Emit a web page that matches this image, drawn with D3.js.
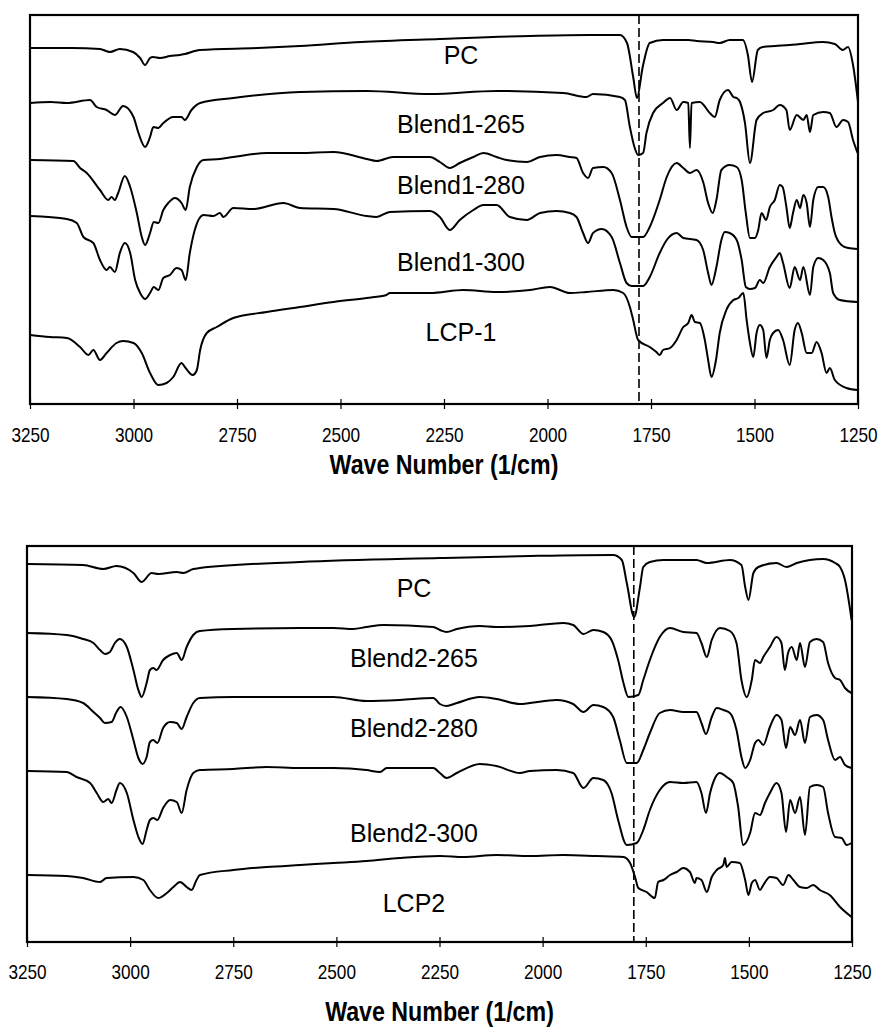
<!DOCTYPE html>
<html><head><meta charset="utf-8">
<script src="https://cdn.jsdelivr.net/npm/d3@7"></script>
<style>body{margin:0;background:#fff} svg{display:block}</style>
</head><body><svg id="c" width="878" height="1029"></svg>
<script>
// ---------- data (wavenumber 1/cm, relative transmittance in arbitrary units) ----------
const tickValues = [3250,3000,2750,2500,2250,2000,1750,1500,1250];
const axisTitle = "Wave Number (1/cm)";
const markerWavenumber = 1779;
const panel1Labels = ["PC","Blend1-265","Blend1-280","Blend1-300","LCP-1"];
const panel2Labels = ["PC","Blend2-265","Blend2-280","Blend2-300","LCP2"];

const p1_PC = [[3250,356],[3150,356],[3081,355],[3057,352],[3033,355],[3001,352],[2984,346],[2972,339],[2960,346],[2953,347],[2936,346],[2912,348],[2888,349],[2876,350],[2840,354],[2700,356],[2598,358],[2450,362],[2260,365],[2042,368],[1900,369],[1825,369],[1808,361],[1793,327],[1784,306],[1770,337],[1753,361],[1721,364],[1660,364],[1640,363],[1600,362],[1584,361],[1560,364],[1528,364],[1516,349],[1506,322],[1492,354],[1480,357],[1450,358],[1415,359],[1390,360],[1335,362],[1306,360],[1287,354],[1274,357],[1262,339],[1250,302]];

const p1_B265 = [[3250,301],[3200,302],[3161,301],[3105,304],[3089,297],[3065,294],[3045,289],[3025,298],[3000,287],[2988,271],[2972,257],[2960,267],[2952,277],[2940,276],[2928,281],[2904,287],[2884,287],[2876,284],[2860,294],[2839,301],[2759,306],[2598,312],[2437,313],[2284,310],[2123,313],[1962,311],[1906,307],[1890,310],[1825,307],[1813,304],[1801,277],[1790,257],[1781,249],[1769,251],[1761,271],[1745,291],[1721,301],[1704,306],[1688,294],[1672,302],[1660,301],[1656,256],[1652,301],[1632,302],[1608,291],[1596,287],[1584,304],[1564,314],[1551,307],[1543,306],[1535,302],[1523,281],[1511,241],[1495,284],[1479,291],[1455,294],[1439,299],[1423,294],[1415,274],[1398,289],[1382,284],[1374,289],[1366,272],[1358,289],[1334,292],[1318,291],[1302,277],[1286,284],[1274,282],[1262,264],[1251,251]];

const p1_B280 = [[3250,244],[3145,243],[3129,236],[3113,231],[3081,214],[3061,204],[3053,207],[3045,204],[3037,211],[3021,228],[3008,217],[2992,191],[2980,167],[2972,159],[2960,171],[2951,182],[2940,181],[2928,194],[2916,201],[2900,206],[2884,201],[2874,194],[2864,217],[2847,237],[2831,244],[2791,245],[2759,247],[2678,251],[2598,251],[2517,252],[2437,245],[2413,243],[2373,247],[2284,247],[2260,242],[2236,236],[2212,241],[2179,247],[2155,251],[2123,247],[2099,244],[2050,242],[2018,247],[1978,249],[1946,247],[1930,246],[1914,231],[1902,226],[1890,236],[1865,237],[1845,231],[1825,204],[1809,177],[1797,167],[1769,167],[1753,177],[1729,204],[1712,227],[1688,241],[1672,236],[1656,231],[1640,234],[1624,222],[1612,201],[1601,191],[1592,204],[1580,234],[1560,239],[1543,237],[1531,224],[1521,191],[1511,166],[1499,166],[1491,174],[1483,191],[1472,184],[1463,197],[1451,204],[1439,219],[1432,217],[1423,197],[1415,176],[1407,191],[1398,204],[1390,196],[1382,209],[1374,201],[1366,177],[1358,204],[1346,217],[1334,217],[1322,207],[1314,187],[1306,171],[1290,159],[1274,156],[1251,155]];

const p1_B300 = [[3250,188],[3161,185],[3137,181],[3121,167],[3097,161],[3081,144],[3065,134],[3057,137],[3045,132],[3033,151],[3021,161],[3008,151],[2996,124],[2984,111],[2972,105],[2960,111],[2951,117],[2940,114],[2928,126],[2912,129],[2896,136],[2884,134],[2874,124],[2864,151],[2852,174],[2831,189],[2807,188],[2791,191],[2783,187],[2759,196],[2711,195],[2638,201],[2598,196],[2517,195],[2437,188],[2413,187],[2381,192],[2284,193],[2260,187],[2236,174],[2212,184],[2179,194],[2155,199],[2123,199],[2091,187],[2050,184],[2018,191],[1978,193],[1946,191],[1930,187],[1914,171],[1902,161],[1890,171],[1869,175],[1845,167],[1825,141],[1809,121],[1797,118],[1769,118],[1753,127],[1729,151],[1712,164],[1688,171],[1672,166],[1640,164],[1624,154],[1612,131],[1604,119],[1592,137],[1580,164],[1572,172],[1560,171],[1543,164],[1531,144],[1521,117],[1511,115],[1499,116],[1487,124],[1479,121],[1463,137],[1447,147],[1439,151],[1431,141],[1415,116],[1403,137],[1390,124],[1382,137],[1366,109],[1358,137],[1346,146],[1334,144],[1318,131],[1310,111],[1294,104],[1251,102]];

const p1_LCP = [[3250,69],[3202,67],[3161,66],[3129,57],[3109,49],[3097,54],[3081,44],[3065,51],[3041,61],[3025,63],[3000,61],[2980,51],[2960,31],[2940,19],[2920,21],[2904,27],[2884,41],[2876,37],[2857,29],[2847,34],[2839,54],[2823,71],[2799,77],[2759,86],[2678,92],[2598,97],[2517,102],[2437,106],[2389,109],[2381,111],[2284,111],[2203,114],[2123,112],[2042,114],[1994,117],[1946,111],[1906,112],[1841,114],[1817,111],[1801,97],[1793,84],[1781,64],[1753,57],[1737,52],[1729,49],[1721,54],[1704,56],[1688,64],[1672,77],[1660,81],[1652,89],[1644,82],[1632,81],[1620,64],[1612,44],[1604,27],[1593,44],[1584,71],[1568,94],[1551,104],[1539,106],[1527,111],[1519,84],[1511,61],[1503,47],[1495,71],[1487,79],[1479,74],[1471,46],[1463,64],[1455,71],[1443,74],[1431,64],[1415,39],[1403,74],[1395,81],[1386,71],[1374,51],[1362,51],[1350,62],[1338,51],[1326,31],[1318,36],[1306,24],[1278,16],[1251,14]];

const p2_PC = [[3250,378],[3114,377],[3065,373],[3033,376],[2992,369],[2972,360],[2948,369],[2932,368],[2887,370],[2871,369],[2847,373],[2831,374],[2588,380],[2249,384],[2031,386],[1829,387],[1808,382],[1796,359],[1778,325],[1764,355],[1756,375],[1740,380],[1707,382],[1627,382],[1602,379],[1546,382],[1518,377],[1509,355],[1501,342],[1489,369],[1477,375],[1433,379],[1409,375],[1384,379],[1320,383],[1291,379],[1279,375],[1267,362],[1251,322]];

const p2_B265 = [[3250,309],[3154,307],[3114,303],[3089,299],[3073,292],[3061,288],[3049,290],[3037,299],[3025,303],[3008,295],[2992,272],[2980,252],[2972,245],[2960,259],[2952,272],[2944,274],[2936,272],[2920,282],[2903,287],[2887,289],[2875,282],[2863,295],[2847,307],[2831,311],[2750,313],[2588,314],[2507,314],[2459,313],[2427,315],[2386,317],[2265,315],[2249,312],[2233,310],[2208,313],[2152,316],[2112,315],[2031,316],[1950,319],[1926,317],[1901,308],[1877,312],[1853,310],[1833,302],[1817,282],[1804,259],[1792,245],[1768,247],[1756,262],[1740,282],[1716,305],[1691,314],[1659,310],[1627,309],[1615,299],[1602,285],[1590,302],[1570,314],[1546,311],[1530,299],[1518,262],[1505,245],[1493,262],[1485,282],[1473,279],[1465,285],[1449,295],[1433,305],[1421,299],[1413,272],[1405,289],[1396,295],[1384,282],[1376,299],[1364,275],[1352,300],[1336,303],[1320,300],[1308,279],[1291,264],[1279,262],[1267,254],[1251,249]];

const p2_B280 = [[3250,245],[3154,243],[3114,239],[3089,230],[3073,224],[3061,219],[3045,220],[3033,230],[3023,235],[3008,225],[2992,202],[2980,184],[2970,178],[2960,185],[2952,200],[2944,202],[2934,199],[2920,214],[2903,220],[2887,219],[2875,213],[2863,225],[2847,239],[2831,244],[2750,245],[2588,245],[2507,245],[2427,241],[2346,242],[2265,244],[2249,238],[2233,236],[2208,239],[2152,245],[2112,243],[2055,238],[2031,239],[1966,242],[1926,238],[1901,230],[1877,237],[1853,235],[1829,225],[1813,202],[1796,179],[1772,179],[1756,192],[1740,209],[1716,229],[1691,232],[1659,230],[1627,230],[1615,219],[1604,208],[1590,225],[1578,234],[1562,232],[1546,229],[1530,212],[1518,185],[1509,174],[1497,182],[1485,199],[1477,202],[1465,197],[1449,215],[1433,227],[1421,222],[1410,194],[1400,215],[1388,207],[1376,222],[1364,199],[1352,225],[1336,227],[1320,222],[1308,202],[1291,182],[1279,185],[1267,177],[1251,174]];

const p2_B300 = [[3250,171],[3154,170],[3130,165],[3097,159],[3081,149],[3065,140],[3053,143],[3045,139],[3033,152],[3025,159],[3008,149],[2992,122],[2980,105],[2970,98],[2960,112],[2952,122],[2944,124],[2934,122],[2920,134],[2903,142],[2887,140],[2875,129],[2863,152],[2847,169],[2831,172],[2750,173],[2669,175],[2588,174],[2507,174],[2427,172],[2394,170],[2378,174],[2265,174],[2249,169],[2233,164],[2208,169],[2152,178],[2112,176],[2055,169],[2031,171],[1966,172],[1926,169],[1901,154],[1877,164],[1853,162],[1833,149],[1817,122],[1796,97],[1772,99],[1756,112],[1740,132],[1716,152],[1691,160],[1659,159],[1627,160],[1615,149],[1604,129],[1594,149],[1582,164],[1570,169],[1554,165],[1538,159],[1526,135],[1514,97],[1497,109],[1485,129],[1473,127],[1461,139],[1449,149],[1433,159],[1421,149],[1410,110],[1400,142],[1388,129],[1376,145],[1364,107],[1352,155],[1336,157],[1320,155],[1308,129],[1291,105],[1275,104],[1263,97],[1251,99]];

const p2_LCP = [[3250,67],[3154,66],[3114,64],[3073,60],[3057,64],[2992,65],[2968,62],[2952,52],[2932,44],[2911,49],[2895,55],[2879,60],[2863,55],[2851,52],[2839,62],[2831,67],[2750,72],[2669,75],[2588,77],[2507,79],[2427,81],[2346,84],[2249,86],[2192,85],[2112,87],[2031,86],[1950,87],[1869,86],[1804,85],[1788,79],[1776,65],[1768,54],[1748,50],[1728,44],[1720,60],[1707,62],[1691,67],[1675,70],[1659,74],[1643,70],[1631,59],[1627,64],[1615,62],[1602,50],[1590,65],[1578,72],[1562,77],[1558,84],[1554,75],[1542,80],[1522,79],[1509,62],[1501,47],[1493,59],[1485,62],[1473,52],[1465,57],[1449,65],[1433,64],[1417,57],[1404,67],[1392,62],[1376,55],[1360,54],[1344,57],[1328,52],[1304,47],[1279,35],[1251,25]];

// ---------- layout ----------
const panels = [
  {x0:30, x1:858, y0:15, y1:404, series:[p1_PC,p1_B265,p1_B280,p1_B300,p1_LCP],
   labels:panel1Labels, labelX:461, labelY:[55,124,185,262,332], tickBase:38, titleY:474},
  {x0:27, x1:852, y0:546, y1:942, series:[p2_PC,p2_B265,p2_B280,p2_B300,p2_LCP],
   labels:panel2Labels, labelX:414, labelY:[588,658,728,833,903], tickBase:37, titleY:1021}
];
const FONT = '"Liberation Sans", Arial, Helvetica, sans-serif';
const svg = d3.select("#c");

panels.forEach(p => {
  const x = d3.scaleLinear().domain([3250,1250]).range([p.x0, p.x1]);
  const y = d3.scaleLinear().domain([0, p.y1 - p.y0]).range([p.y1, p.y0]);
  const g = svg.append("g");

  const line = d3.line().x(d => x(d[0])).y(d => y(d[1])).curve(d3.curveMonotoneX);
  p.series.forEach(s => {
    const data = s.slice().sort((a,b) => b[0]-a[0]);
    g.append("path").datum(data).attr("d", line)
      .attr("fill","none").attr("stroke","#000").attr("stroke-width",2)
      .attr("stroke-linejoin","round");
  });

  // dashed marker
  g.append("line").attr("x1", x(markerWavenumber)).attr("x2", x(markerWavenumber))
    .attr("y1", p.y0).attr("y2", p.y1)
    .attr("stroke","#000").attr("stroke-width",1.6).attr("stroke-dasharray","9,4");

  // frame
  g.append("rect").attr("x",p.x0).attr("y",p.y0).attr("width",p.x1-p.x0).attr("height",p.y1-p.y0)
    .attr("fill","none").attr("stroke","#000").attr("stroke-width",2.2);

  // axis (outward ticks + labels)
  const ax = g.append("g").attr("transform",`translate(0,${p.y1})`)
    .call(d3.axisBottom(x).tickValues(tickValues).tickSize(5).tickFormat(d3.format("d")));
  ax.select(".domain").remove();
  ax.selectAll(".tick line").attr("stroke","#000").attr("stroke-width",1.2);
  ax.selectAll("text").attr("y", p.tickBase).attr("dy", 0)
    .attr("font-family", FONT).attr("font-size", 20).attr("fill","#000")
    .attr("transform","scale(0.86,1)");
  // inward ticks
  const ax2 = g.append("g").attr("transform",`translate(0,${p.y1})`)
    .call(d3.axisBottom(x).tickValues(tickValues).tickSize(-5).tickFormat(""));
  ax2.select(".domain").remove();
  ax2.selectAll(".tick line").attr("stroke","#000").attr("stroke-width",1.2);

  // title
  const cx = (p.x0+p.x1)/2;
  g.append("text").attr("x",cx).attr("y",p.titleY)
    .attr("text-anchor","middle").attr("font-family",FONT).attr("font-weight","bold")
    .attr("font-size",27).attr("transform",`translate(${cx*0.14},0) scale(0.86,1)`)
    .text(axisTitle);

  // series labels
  p.labels.forEach((t,i) => {
    g.append("text").attr("x",p.labelX).attr("y",p.labelY[i]).attr("dy","0.36em")
      .attr("text-anchor","middle").attr("font-family",FONT).attr("font-size",25)
      .attr("fill","#000").text(t);
  });
});
</script></body></html>
